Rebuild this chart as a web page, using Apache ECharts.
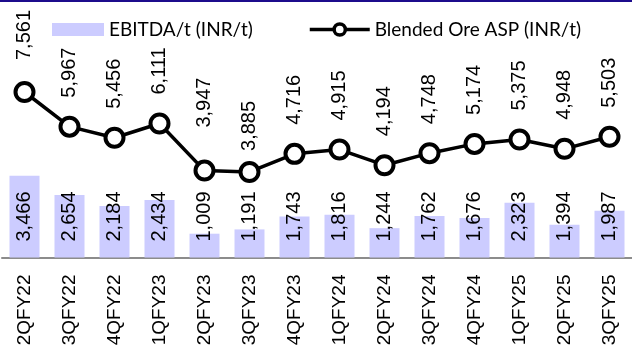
<!DOCTYPE html>
<html>
<head>
<meta charset="utf-8">
<script src="https://cdn.jsdelivr.net/npm/echarts@6/dist/echarts.min.js"></script>
<style>
  html, body { margin: 0; padding: 0; background: #ffffff; }
  #chart { width: 632px; height: 353px; }
</style>
</head>
<body>
<div id="chart"></div>
<script>
const categories = ['2QFY22','3QFY22','4QFY22','1QFY23','2QFY23','3QFY23','4QFY23','1QFY24','2QFY24','3QFY24','4QFY24','1QFY25','2QFY25','3QFY25'];
const ebitdaPerTonne = [3466, 2654, 2184, 2434, 1009, 1191, 1743, 1816, 1244, 1762, 1676, 2323, 1394, 1987];
const blendedOreAsp = [7561, 5967, 5456, 6111, 3947, 3885, 4716, 4915, 4194, 4748, 5174, 5375, 4948, 5503];

const numFmt = v => v.toLocaleString('en-US');

// label distance tweaks for individual line points (styling only)
const lineLabelDistance = { 0: 21, 4: 32, 5: 10 };

const lineData = blendedOreAsp.map((v, i) => (
  lineLabelDistance[i] !== undefined
    ? { value: v, label: { distance: lineLabelDistance[i] } }
    : v
));

const chart = echarts.init(document.getElementById('chart'), null, { renderer: 'canvas' });

const labelFont = 'Liberation Sans, Arial, sans-serif';
const legendFont = 'Lato, Open Sans, sans-serif';

chart.setOption({
  animation: false,
  backgroundColor: '#ffffff',
  graphic: [
    { type: 'rect', left: 0, top: 0, shape: { width: 632, height: 2 }, style: { fill: '#1c0c8c' }, silent: true, z: 100 }
  ],
  legend: [
    {
      data: [{ name: 'EBITDA/t (INR/t)', icon: 'rect' }],
      left: 47, top: 14,
      itemWidth: 52, itemHeight: 13,
      textStyle: { fontFamily: legendFont, fontSize: 19, color: '#000', lineHeight: 21 }
    },
    {
      data: ['Blended Ore ASP (INR/t)'],
      left: 303, top: 14,
      itemWidth: 60, itemHeight: 14,
      lineStyle: { width: 3.5, color: '#000' },
      itemStyle: { borderWidth: 3.5, borderColor: '#000', color: '#fff' },
      textStyle: { fontFamily: legendFont, fontSize: 19, color: '#000', lineHeight: 21 }
    }
  ],
  grid: { left: 2, width: 634, top: 17, bottom: 95.5, containLabel: false },
  xAxis: {
    type: 'category',
    data: categories,
    axisLine: { show: true, lineStyle: { color: '#8c8c8c', width: 2 } },
    axisTick: { show: false },
    axisLabel: {
      rotate: 90,
      margin: 17,
      interval: 0,
      fontFamily: labelFont,
      fontSize: 19,
      color: '#000'
    }
  },
  yAxis: [
    { type: 'value', min: 0, max: 10200, show: false, splitLine: { show: false } },
    { type: 'value', min: -50, max: 11010, show: false, splitLine: { show: false } }
  ],
  series: [
    {
      name: 'EBITDA/t (INR/t)',
      type: 'bar',
      yAxisIndex: 0,
      data: ebitdaPerTonne,
      barWidth: 30,
      itemStyle: { color: '#ccccff' },
      label: {
        show: true,
        position: 'insideBottom',
        rotate: 90,
        align: 'left',
        verticalAlign: 'middle',
        distance: 16,
        formatter: p => numFmt(p.value),
        fontFamily: labelFont,
        fontSize: 20,
        color: '#000'
      },
      z: 2
    },
    {
      name: 'Blended Ore ASP (INR/t)',
      type: 'line',
      yAxisIndex: 1,
      data: lineData,
      symbol: 'circle',
      symbolSize: 18,
      lineStyle: { color: '#000', width: 3.5 },
      itemStyle: { color: '#fff', borderColor: '#000', borderWidth: 4 },
      label: {
        show: true,
        position: 'top',
        rotate: 90,
        align: 'left',
        verticalAlign: 'middle',
        distance: 18,
        formatter: p => numFmt(p.value),
        fontFamily: labelFont,
        fontSize: 20,
        color: '#000'
      },
      z: 3
    }
  ]
});
</script>
</body>
</html>
